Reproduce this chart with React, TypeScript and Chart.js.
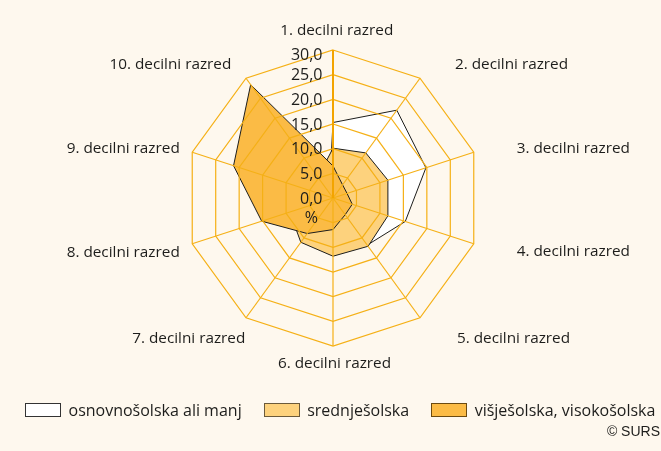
import React, { useEffect, useRef } from 'react';
import { Chart, registerables } from 'chart.js';

Chart.register(...registerables);

// ---------- data ----------
const CATEGORIES = [
  '1. decilni razred',
  '2. decilni razred',
  '3. decilni razred',
  '4. decilni razred',
  '5. decilni razred',
  '6. decilni razred',
  '7. decilni razred',
  '8. decilni razred',
  '9. decilni razred',
  '10. decilni razred',
];
const SERIES_LABELS = ['osnovnošolska ali manj', 'srednješolska', 'višješolska, visokošolska'];
const BASIC_VALUES = [15.3, 22.0, 19.8, 15.4, 11.8, 11.6, 5.0, 3.0, 2.0, 1.3];
const SECONDARY_VALUES = [10.1, 11.3, 11.7, 11.7, 12.1, 11.8, 11.1, 9.2, 6.5, 5.2];
const TERTIARY_VALUES = [6.5, 3.3, 3.0, 4.1, 4.2, 6.4, 8.9, 15.2, 21.2, 28.4];
const TICK_LABELS = ['0,0', '5,0', '10,0', '15,0', '20,0', '25,0', '30,0'];
const UNIT_LABEL = '%';
const SOURCE_LABEL = '© SURS';

// ---------- styles ----------
const BG = '#FEF8EE';
const GRID = '#F5B016';
const AXIS = '#F3A400';
const INK = '#1d1d1b';
const FILLS = ['#FFFFFF', '#FDD27D', '#FBBB45'];
const BORDERS = ['#1d1d1b', '#1d1d1b', '#1d1d1b'];
const LEGEND_BORDERS = ['#333333', '#6b5a3a', '#6b4a10'];
const FONT = '"Open Sans", "Noto Sans", sans-serif';

// point-label placement relative to the outer ring vertex (text layout only)
const LABEL_PLACEMENT: { dx: number; dy: number; align: CanvasTextAlign }[] = [
  { dx: 3.7, dy: -15.3, align: 'center' },
  { dx: 35, dy: -9.7, align: 'left' },
  { dx: 43, dy: 0.7, align: 'left' },
  { dx: 43, dy: 12.5, align: 'left' },
  { dx: 37, dy: 25, align: 'left' },
  { dx: 1.5, dy: 22, align: 'center' },
  { dx: -0.7, dy: 25, align: 'right' },
  { dx: -12.5, dy: 13, align: 'right' },
  { dx: -12.5, dy: 0.7, align: 'right' },
  { dx: -14.7, dy: -9.7, align: 'right' },
];

const textPlugin = {
  id: 'radarText',
  afterDraw(chart: any) {
    const scale = chart.scales.r;
    const ctx = chart.ctx as CanvasRenderingContext2D;
    ctx.save();
    ctx.fillStyle = INK;
    ctx.textBaseline = 'alphabetic';

    // point labels
    ctx.font = `15.3px ${FONT}`;
    CATEGORIES.forEach((text, i) => {
      const pos = scale.getPointPosition(i, scale.drawingArea);
      const pl = LABEL_PLACEMENT[i];
      ctx.textAlign = pl.align;
      ctx.fillText(text, pos.x + pl.dx, pos.y + pl.dy);
    });

    // radial tick labels, right-aligned left of the axis
    ctx.font = `16px ${FONT}`;
    ctx.textAlign = 'right';
    const xRight = scale.xCenter - 10.5;
    const top = scale.yCenter - scale.drawingArea;
    scale.ticks.forEach((tick: any, i: number) => {
      const ringY = scale.yCenter - scale.getDistanceFromCenterForValue(tick.value);
      const cy = Math.max(ringY, top + 4);
      ctx.fillText(TICK_LABELS[i], xRight, cy + 5.7);
    });

    // unit under the zero label
    const zeroW = ctx.measureText(TICK_LABELS[0]).width;
    ctx.textAlign = 'center';
    ctx.fillText(UNIT_LABEL, xRight - zeroW / 2, scale.yCenter + 25);
    ctx.restore();
  },
};

export default function App() {
  const ref = useRef<HTMLCanvasElement>(null);

  useEffect(() => {
    const canvas = ref.current;
    if (!canvas) return;
    const values = [BASIC_VALUES, SECONDARY_VALUES, TERTIARY_VALUES];
    const chart = new Chart(canvas, {
      type: 'radar',
      data: {
        labels: CATEGORIES,
        datasets: SERIES_LABELS.map((label, i) => ({
          label,
          data: values[i],
          backgroundColor: FILLS[i],
          borderColor: BORDERS[i],
          borderWidth: 1,
          pointRadius: 0,
          pointHoverRadius: 0,
          fill: true,
          tension: 0,
          order: 3 - i,
        })),
      },
      options: {
        responsive: false,
        animation: false,
        events: [],
        layout: { padding: { top: 50, bottom: 104, left: 6, right: 0 } },
        plugins: {
          legend: { display: false },
          tooltip: { enabled: false },
          title: { display: false },
        },
        scales: {
          r: {
            min: 0,
            max: 30,
            ticks: { stepSize: 5, display: false, z: 1 },
            grid: { color: GRID, lineWidth: 1.2, circular: false, z: 1 },
            angleLines: {
              color: (c: any) => (c.index === 0 ? AXIS : GRID),
              lineWidth: (c: any) => (c.index === 0 ? 2 : 1.2),
            },
            pointLabels: { display: false },
          },
        },
      },
      plugins: [textPlugin],
    } as any);
    return () => chart.destroy();
  }, []);

  return (
    <div
      style={{
        position: 'fixed',
        left: 0,
        top: 0,
        width: 661,
        height: 451,
        background: BG,
        overflow: 'hidden',
      }}
    >
      <canvas ref={ref} width={661} height={451} style={{ display: 'block' }} />
      <div
        style={{
          position: 'absolute',
          left: 25,
          top: 400,
          height: 20,
          display: 'flex',
          alignItems: 'center',
          whiteSpace: 'nowrap',
          fontFamily: FONT,
          fontSize: 16,
          lineHeight: '20px',
          color: INK,
        }}
      >
        {SERIES_LABELS.map((s, i) => (
          <div key={s} style={{ display: 'flex', alignItems: 'center', marginRight: 22 }}>
            <span
              style={{
                display: 'inline-block',
                width: 36,
                height: 14,
                boxSizing: 'border-box',
                border: `1px solid ${LEGEND_BORDERS[i]}`,
                background: FILLS[i],
                marginRight: 7.5,
              }}
            />
            <span>{s}</span>
          </div>
        ))}
      </div>
      <div
        style={{
          position: 'absolute',
          right: 1,
          top: 423,
          fontFamily: '"Liberation Sans", Arial, sans-serif',
          fontSize: 14,
          lineHeight: '17px',
          color: INK,
        }}
      >
        {SOURCE_LABEL}
      </div>
    </div>
  );
}
